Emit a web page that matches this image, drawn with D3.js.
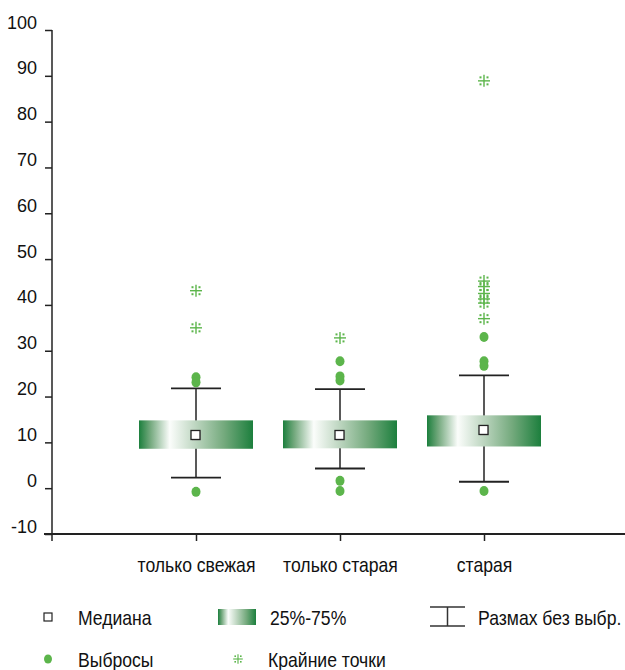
<!DOCTYPE html>
<html><head><meta charset="utf-8">
<script src="https://cdn.jsdelivr.net/npm/d3@7"></script>
<style>body{margin:0;background:#fff}svg{display:block}</style>
</head><body>
<svg id="c" width="625" height="670"></svg>
<script>
const categories = ["только свежая", "только старая", "старая"];
const q1 = [8.6, 8.7, 9.1];
const q3 = [14.8, 14.8, 15.9];
const medians = [11.5, 11.5, 12.6];
const whiskerLow = [2.3, 4.3, 1.4];
const whiskerHigh = [21.8, 21.6, 24.6];
const outliers = [[24.2, 23.1, -0.8], [27.7, 24.4, 23.5, 1.6, -0.6], [33.0, 27.7, 26.7, -0.6]];
const extremes = [[43.1, 35.0], [32.8], [88.9, 45.2, 44.0, 42.5, 41.3, 40.4, 37.0]];
const yTicks = [-10, 0, 10, 20, 30, 40, 50, 60, 70, 80, 90, 100];
const legendLabels = ["Медиана", "25%-75%", "Размах без выбр.", "Выбросы", "Крайние точки"];

const svg = d3.select("#c");
const ptGreen = "#5cb54b", ink = "#222";
const sans = "'Liberation Sans', Arial, sans-serif";

const defs = svg.append("defs");
const gr = defs.append("linearGradient").attr("id", "g").attr("x1", "0").attr("x2", "1").attr("y1", "0").attr("y2", "0");
[[0, "#1c7f3d"], [0.1, "#74a97e"], [0.27, "#fbfdfb"], [0.5, "#bcd5bf"], [0.75, "#73a97c"], [1, "#1c7f3d"]]
  .forEach(([o, c]) => gr.append("stop").attr("offset", o).attr("stop-color", c));

const axX = 52;
const y = d3.scaleLinear().domain([-10, 100]).range([534, 30]);
const x = d3.scalePoint().domain(categories).range([axX, 628]).padding(1);
const boxW = 114, capW = 50;

// Y axis
const yAxis = svg.append("g").attr("transform", `translate(${axX},0)`)
  .call(d3.axisLeft(y).tickValues(yTicks).tickFormat(d => String(d)).tickSize(7).tickPadding(8).tickSizeOuter(0));
yAxis.select(".domain").remove();
yAxis.selectAll(".tick line").attr("stroke", ink).attr("stroke-width", 1.5);
yAxis.selectAll("text").attr("font-family", sans).attr("font-size", 18).attr("fill", "#111").attr("dy", "-2px");
svg.append("line").attr("x1", axX).attr("x2", axX).attr("y1", y(100)).attr("y2", y(-10) + 7).attr("stroke", ink).attr("stroke-width", 1.5);

// X axis
const xAxis = svg.append("g").attr("transform", `translate(0,${y(-10)})`)
  .call(d3.axisBottom(x).tickSize(7).tickPadding(17).tickSizeOuter(0));
xAxis.select(".domain").remove();
xAxis.selectAll(".tick line").attr("stroke", ink).attr("stroke-width", 1.5);
xAxis.selectAll("text").attr("font-family", sans).attr("font-size", 20).attr("fill", "#111").attr("transform", "scale(0.88,1)");
svg.append("line").attr("x1", 44).attr("x2", 625).attr("y1", y(-10)).attr("y2", y(-10)).attr("stroke", ink).attr("stroke-width", 2);

// boxes
const g = svg.append("g");
categories.forEach((c, i) => {
  const cx = x(c);
  g.append("line").attr("x1", cx).attr("x2", cx).attr("y1", y(whiskerLow[i])).attr("y2", y(whiskerHigh[i])).attr("stroke", ink).attr("stroke-width", 1.5);
  [whiskerLow[i], whiskerHigh[i]].forEach(v => g.append("line").attr("x1", cx - capW / 2).attr("x2", cx + capW / 2)
    .attr("y1", y(v)).attr("y2", y(v)).attr("stroke", ink).attr("stroke-width", 1.8));
  g.append("rect").attr("x", cx - boxW / 2).attr("width", boxW).attr("y", y(q3[i])).attr("height", y(q1[i]) - y(q3[i])).attr("fill", "url(#g)");
  g.append("rect").attr("x", cx - 4).attr("y", y(medians[i]) - 4).attr("width", 9).attr("height", 9).attr("fill", "#999").attr("opacity", 0.6);
  g.append("rect").attr("x", cx - 5).attr("y", y(medians[i]) - 5).attr("width", 9).attr("height", 9).attr("fill", "#fff").attr("stroke", ink).attr("stroke-width", 1.3);
  outliers[i].forEach(v => g.append("ellipse").attr("cx", cx).attr("cy", y(v)).attr("rx", 4.5).attr("ry", 5).attr("fill", ptGreen));
  extremes[i].forEach(v => star(g, cx, y(v), 1));
});

function star(sel, cx, cy, s) {
  const st = sel.append("g").attr("transform", `translate(${cx},${cy}) scale(${s})`).attr("fill", ptGreen).attr("stroke", ptGreen);
  st.append("line").attr("x1", -6).attr("x2", 6).attr("y1", 0).attr("y2", 0).attr("stroke-width", 1.4);
  st.append("line").attr("x1", 0).attr("x2", 0).attr("y1", -6).attr("y2", 6).attr("stroke-width", 1.4);
  [[-3.5, -3.5], [3.5, -3.5], [-3.5, 3.5], [3.5, 3.5]].forEach(([dx, dy]) =>
    st.append("rect").attr("x", dx - 1).attr("y", dy - 1).attr("width", 2).attr("height", 2).attr("stroke", "none"));
}

// legend
const L = svg.append("g").attr("font-family", sans).attr("font-size", 20).attr("fill", "#111");
function ltext(tx, ty, s) { L.append("text").attr("transform", `translate(${tx},${ty}) scale(0.88,1)`).text(s); }
L.append("rect").attr("x", 44).attr("y", 613).attr("width", 8).attr("height", 8).attr("fill", "#fff").attr("stroke", ink).attr("stroke-width", 1.2);
ltext(78, 625, legendLabels[0]);
L.append("rect").attr("x", 218).attr("y", 609).attr("width", 38).attr("height", 16).attr("fill", "url(#g)");
ltext(270, 625, legendLabels[1]);
L.append("line").attr("x1", 430).attr("x2", 465).attr("y1", 607).attr("y2", 607).attr("stroke", "#333").attr("stroke-width", 1.5);
L.append("line").attr("x1", 430).attr("x2", 465).attr("y1", 626).attr("y2", 626).attr("stroke", "#333").attr("stroke-width", 1.5);
L.append("line").attr("x1", 447.5).attr("x2", 447.5).attr("y1", 607).attr("y2", 626).attr("stroke", "#333").attr("stroke-width", 1.5);
ltext(478, 625, legendLabels[2]);
L.append("ellipse").attr("cx", 48).attr("cy", 659).attr("rx", 4).attr("ry", 4.5).attr("fill", ptGreen);
ltext(78, 667, legendLabels[3]);
star(L, 238, 659, 0.8);
ltext(268, 667, legendLabels[4]);
</script>
</body></html>
